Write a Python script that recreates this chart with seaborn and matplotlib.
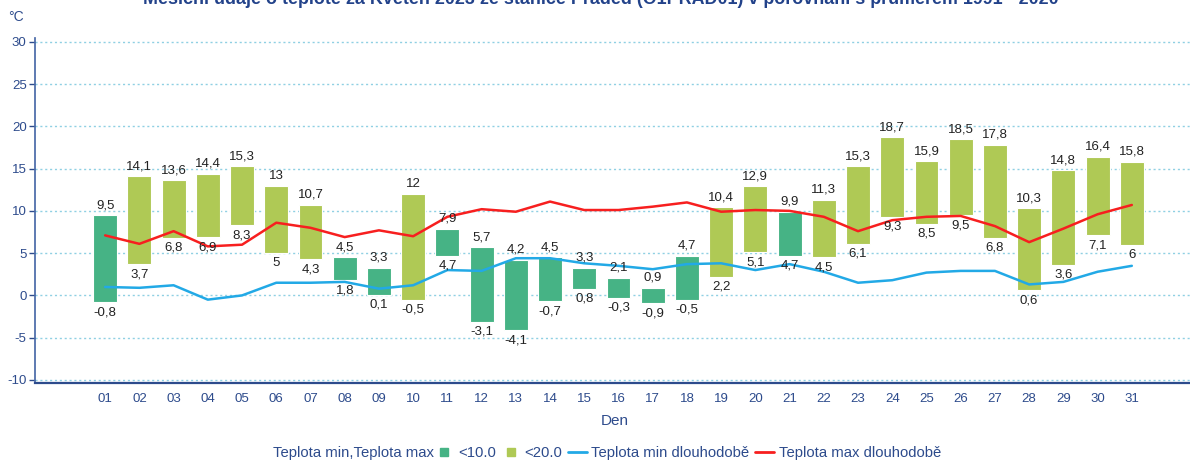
import matplotlib
matplotlib.use("Agg")
import matplotlib.pyplot as plt
from matplotlib.lines import Line2D
import seaborn as sns
import numpy as np
import pandas as pd

# daily values, May, Praděd
days = [f"{d:02d}" for d in range(1, 32)]
t_min = [-0.8, 3.7, 6.8, 6.9, 8.3, 5, 4.3, 1.8, 0.1, -0.5, 4.7, -3.1, -4.1, -0.7, 0.8, -0.3,
         -0.9, -0.5, 2.2, 5.1, 4.7, 4.5, 6.1, 9.3, 8.5, 9.5, 6.8, 0.6, 3.6, 7.1, 6]
t_max = [9.5, 14.1, 13.6, 14.4, 15.3, 13, 10.7, 4.5, 3.3, 12, 7.9, 5.7, 4.2, 4.5, 3.3, 2.1,
         0.9, 4.7, 10.4, 12.9, 9.9, 11.3, 15.3, 18.7, 15.9, 18.5, 17.8, 10.3, 14.8, 16.4, 15.8]
min_long = [1.0, 0.9, 1.2, -0.5, 0.0, 1.5, 1.5, 1.6, 0.8, 1.2, 3.0, 2.9, 4.4, 4.4, 3.8, 3.5,
            3.1, 3.7, 3.8, 3.0, 3.7, 2.8, 1.5, 1.8, 2.7, 2.9, 2.9, 1.3, 1.6, 2.8, 3.5]
max_long = [7.1, 6.1, 7.6, 5.8, 6.0, 8.6, 8.0, 6.9, 7.7, 7.0, 9.3, 10.2, 9.9, 11.1, 10.1, 10.1,
            10.5, 11.0, 9.9, 10.1, 10.0, 9.3, 7.6, 8.9, 9.3, 9.4, 8.2, 6.3, 7.9, 9.6, 10.7]

title = ("Měsíční údaje o teplotě za Květen 2023 ze stanice Praděd (O1PRAD01) "
         "v porovnání s průměrem 1991 - 2020")

DARK = "#46b385"
LIGHT = "#afc955"
NAVY = "#2d4b8c"
RED = "#f71f1f"
BLUE = "#22a9e6"

sns.set_theme(style="white")
plt.rcParams["font.family"] = ["Liberation Sans", "DejaVu Sans"]
plt.rcParams["axes.unicode_minus"] = False

df = pd.DataFrame({"x": np.arange(len(days)), "min": t_min, "max": t_max,
                   "min_long": min_long, "max_long": max_long})
df["color"] = np.where(df["max"] < 10, DARK, LIGHT)

fig = plt.figure(figsize=(11.9, 4.62), dpi=100)
ax = fig.add_axes([35 / 1190, 1 - 383 / 462, 1 - 35 / 1190, (383 - 38) / 462])

ax.bar(df["x"], df["max"] - df["min"], bottom=df["min"], width=0.7,
       color=df["color"], edgecolor="white", linewidth=0.8, zorder=2)
sns.lineplot(data=df, x="x", y="min_long", color=BLUE, linewidth=1.8, ax=ax, zorder=3)
sns.lineplot(data=df, x="x", y="max_long", color=RED, linewidth=1.8, ax=ax, zorder=3)


def fmt(v):
    return f"{v:g}".replace(".", ",")


for _, r in df.iterrows():
    ax.annotate(fmt(r["max"]), (r["x"], r["max"]), xytext=(0, 10), textcoords="offset pixels",
                ha="center", va="center", fontsize=9.5, color="#222222", zorder=4)
    ax.annotate(fmt(r["min"]), (r["x"], r["min"]), xytext=(0, -10), textcoords="offset pixels",
                ha="center", va="center", fontsize=9.5, color="#222222", zorder=4)

ax.set_xlim(-2.05, 31.7)
ax.set_ylim(-10.36, 30.45)
ax.set_yticks(range(-10, 31, 5))
ax.set_xticks(df["x"])
ax.set_xticklabels(days)
ax.grid(axis="y", color="#8fd0e3", linestyle=(0, (1.5, 2)), linewidth=1, zorder=0)
ax.tick_params(axis="y", left=True, length=4, width=1, color=NAVY, labelcolor=NAVY,
               labelsize=9.5, pad=2)
ax.tick_params(axis="x", bottom=False, labelcolor=NAVY, labelsize=9.5, pad=1.5)
for s in ["top", "right"]:
    ax.spines[s].set_visible(False)
ax.spines["left"].set_color("#4a6aa8")
ax.spines["bottom"].set_color("#2d4b8c")
ax.spines["bottom"].set_linewidth(1.6)
ax.set_xlabel("")
ax.set_ylabel("")

fig.text(0.505, 1 - (-1) / 462, title, ha="center", va="center", fontsize=12.9,
         fontweight="bold", color="#22428a")
fig.text(8 / 1190, 1 - 17 / 462, "°C", ha="left", va="center", fontsize=10, color=NAVY)
fig.text(615 / 1190, 1 - 421 / 462, "Den", ha="center", va="center", fontsize=11, color=NAVY)

fig.text(434 / 1190, 1 - 453 / 462, "Teplota min,Teplota max", ha="right", va="center",
         fontsize=10.7, color=NAVY)
handles = [
    Line2D([0], [0], marker="s", linestyle="none", color=DARK, markersize=6),
    Line2D([0], [0], marker="s", linestyle="none", color=LIGHT, markersize=6),
    Line2D([0], [0], color=BLUE, linewidth=2),
    Line2D([0], [0], color=RED, linewidth=2),
]
labels = ["<10.0", "<20.0", "Teplota min dlouhodobě", "Teplota max dlouhodobě"]
leg = fig.legend(handles, labels, loc="center left", bbox_to_anchor=(434 / 1190, 1 - 453 / 462),
                 ncol=4, frameon=False, fontsize=10.7, handlelength=1.3, handletextpad=0.3,
                 columnspacing=0.35, borderpad=0, borderaxespad=0)
for t in leg.get_texts():
    t.set_color(NAVY)

fig.savefig("out.png", dpi=100)
